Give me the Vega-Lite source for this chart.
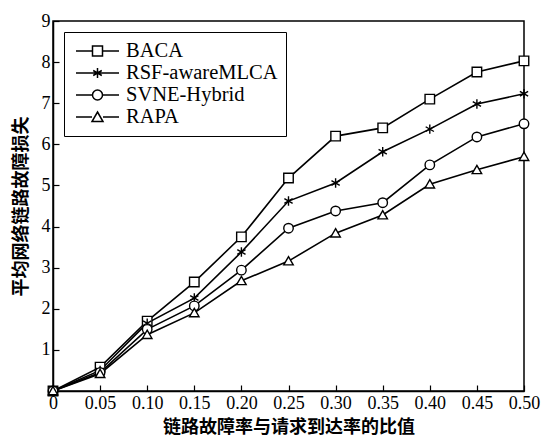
{
  "$schema": "https://vega.github.io/schema/vega-lite/v6.json",
  "autosize": "none",
  "width": 471,
  "height": 370,
  "padding": {"left": 53, "top": 21, "right": 21, "bottom": 50},
  "background": "white",
  "config": {
    "view": {"stroke": "black", "strokeWidth": 1.5},
    "font": "Liberation Serif",
    "axis": {
      "domainColor": "black",
      "domainWidth": 1.5,
      "tickColor": "black",
      "tickSize": -6,
      "tickWidth": 1.2,
      "grid": false,
      "labelFont": "Liberation Serif",
      "labelFontSize": 18,
      "labelColor": "black",
      "titleFont": "Noto Sans CJK SC",
      "titleFontSize": 18,
      "titleColor": "black",
      "titleFontWeight": "bold"
    }
  },
  "data": {
    "values": [
      {"x": 0, "y": 0, "s": "BACA"},
      {"x": 0.05, "y": 0.58, "s": "BACA"},
      {"x": 0.10, "y": 1.7, "s": "BACA"},
      {"x": 0.15, "y": 2.65, "s": "BACA"},
      {"x": 0.20, "y": 3.75, "s": "BACA"},
      {"x": 0.25, "y": 5.18, "s": "BACA"},
      {"x": 0.30, "y": 6.2, "s": "BACA"},
      {"x": 0.35, "y": 6.4, "s": "BACA"},
      {"x": 0.40, "y": 7.1, "s": "BACA"},
      {"x": 0.45, "y": 7.76, "s": "BACA"},
      {"x": 0.50, "y": 8.03, "s": "BACA"},
      {"x": 0, "y": 0, "s": "RSF-awareMLCA"},
      {"x": 0.05, "y": 0.5, "s": "RSF-awareMLCA"},
      {"x": 0.10, "y": 1.65, "s": "RSF-awareMLCA"},
      {"x": 0.15, "y": 2.26, "s": "RSF-awareMLCA"},
      {"x": 0.20, "y": 3.38, "s": "RSF-awareMLCA"},
      {"x": 0.25, "y": 4.62, "s": "RSF-awareMLCA"},
      {"x": 0.30, "y": 5.06, "s": "RSF-awareMLCA"},
      {"x": 0.35, "y": 5.82, "s": "RSF-awareMLCA"},
      {"x": 0.40, "y": 6.37, "s": "RSF-awareMLCA"},
      {"x": 0.45, "y": 6.98, "s": "RSF-awareMLCA"},
      {"x": 0.50, "y": 7.23, "s": "RSF-awareMLCA"},
      {"x": 0, "y": 0, "s": "SVNE-Hybrid"},
      {"x": 0.05, "y": 0.45, "s": "SVNE-Hybrid"},
      {"x": 0.10, "y": 1.5, "s": "SVNE-Hybrid"},
      {"x": 0.15, "y": 2.07, "s": "SVNE-Hybrid"},
      {"x": 0.20, "y": 2.94, "s": "SVNE-Hybrid"},
      {"x": 0.25, "y": 3.96, "s": "SVNE-Hybrid"},
      {"x": 0.30, "y": 4.38, "s": "SVNE-Hybrid"},
      {"x": 0.35, "y": 4.58, "s": "SVNE-Hybrid"},
      {"x": 0.40, "y": 5.5, "s": "SVNE-Hybrid"},
      {"x": 0.45, "y": 6.18, "s": "SVNE-Hybrid"},
      {"x": 0.50, "y": 6.5, "s": "SVNE-Hybrid"},
      {"x": 0, "y": 0, "s": "RAPA"},
      {"x": 0.05, "y": 0.42, "s": "RAPA"},
      {"x": 0.10, "y": 1.37, "s": "RAPA"},
      {"x": 0.15, "y": 1.9, "s": "RAPA"},
      {"x": 0.20, "y": 2.68, "s": "RAPA"},
      {"x": 0.25, "y": 3.16, "s": "RAPA"},
      {"x": 0.30, "y": 3.84, "s": "RAPA"},
      {"x": 0.35, "y": 4.28, "s": "RAPA"},
      {"x": 0.40, "y": 5.03, "s": "RAPA"},
      {"x": 0.45, "y": 5.38, "s": "RAPA"},
      {"x": 0.50, "y": 5.7, "s": "RAPA"}
    ]
  },
  "encoding": {
    "x": {
      "field": "x", "type": "quantitative",
      "scale": {"domain": [0, 0.5], "nice": false, "zero": false},
      "axis": {
        "values": [0, 0.05, 0.1, 0.15, 0.2, 0.25, 0.3, 0.35, 0.4, 0.45, 0.5],
        "labelExpr": "datum.value == 0 ? '0' : format(datum.value, '.2f')",
        "labelPadding": 9,
        "labelFlush": false,
        "labelOverlap": false,
        "title": "链路故障率与请求到达率的比值",
        "titlePadding": 6
      }
    },
    "y": {
      "field": "y", "type": "quantitative",
      "scale": {"domain": [0, 9], "nice": false},
      "axis": {
        "values": [0, 1, 2, 3, 4, 5, 6, 7, 8, 9],
        "labelExpr": "datum.value == 0 ? '' : datum.label",
        "labelPadding": 9,
        "labelFlush": false,
        "title": "平均网络链路故障损失",
        "titlePadding": 11
      }
    }
  },
  "layer": [
    {
      "mark": {"type": "line", "color": "black", "strokeWidth": 1.6},
      "encoding": {"detail": {"field": "s"}}
    },
    {
      "mark": {"type": "point", "filled": false, "fill": "white", "fillOpacity": 1, "stroke": "black", "strokeWidth": 1.4, "opacity": 1, "size": 90},
      "encoding": {
        "shape": {
          "field": "s", "type": "nominal",
          "scale": {
            "domain": ["BACA", "RSF-awareMLCA", "SVNE-Hybrid", "RAPA"],
            "range": ["square", "M0,-1L0,1M-0.87,-0.5L0.87,0.5M-0.87,0.5L0.87,-0.5", "circle", "M0,-0.95L1,0.8L-1,0.8Z"]
          },
          "legend": null
        }
      }
    },
    {
      "transform": [{"filter": "datum.x > 1"}],
      "mark": {"type": "point", "filled": false, "stroke": "black", "strokeWidth": 1.5, "size": 400},
      "encoding": {
        "shape": {
          "field": "s", "type": "nominal",
          "scale": {
            "domain": ["BACA", "RSF-awareMLCA", "SVNE-Hybrid", "RAPA"],
            "range": [
              "M-0.7,0H0.95M1.95,0H3.6M0.95,-0.5H1.95V0.5H0.95Z",
              "M-0.7,0H3.6M1.45,-0.5L1.45,0.5M1.02,-0.25L1.88,0.25M1.02,0.25L1.88,-0.25",
              "M-0.7,0H0.95M1.95,0H3.6M1.95,0A0.5,0.5,0,1,1,0.95,0A0.5,0.5,0,1,1,1.95,0Z",
              "M-0.7,0H0.9M2.0,0H3.6M1.45,-0.5L2.0,0.45L0.9,0.45Z"
            ]
          },
          "legend": {
            "title": null,
            "orient": "top-left",
            "offset": 11,
            "strokeColor": "black",
            "padding": 8,
            "symbolSize": 400,
            "symbolStrokeColor": "black",
            "symbolStrokeWidth": 1.5,
            "symbolFillColor": "white",
            "symbolOpacity": 1,
            "labelFont": "Liberation Serif",
            "labelFontSize": 20.5,
            "labelColor": "black",
            "labelOffset": 32,
            "labelLimit": 300,
            "rowPadding": -2,
            "cornerRadius": 0
          }
        }
      }
    }
  ],
  "resolve": {"scale": {"shape": "independent"}}
}
